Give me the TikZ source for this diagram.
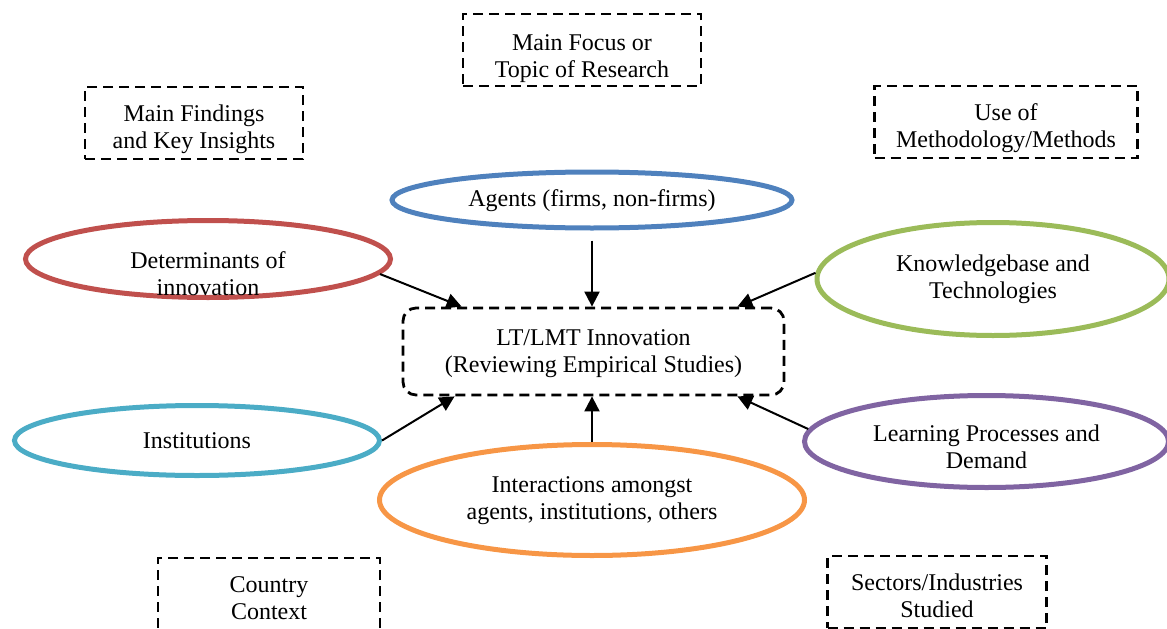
\documentclass[tikz,border=0pt]{standalone}
\usepackage{fontspec}
\setmainfont{Liberation Serif}
\usetikzlibrary{shapes.geometric,arrows.meta}

\definecolor{cblue}{HTML}{4F81BD}
\definecolor{cred}{HTML}{C0504D}
\definecolor{cgreen}{HTML}{9BBB59}
\definecolor{ccyan}{HTML}{4BACC6}
\definecolor{corange}{HTML}{F79646}
\definecolor{cpurple}{HTML}{8064A2}

\tikzset{
  lbl/.style={font=\fontsize{24}{27}\selectfont, align=center, inner sep=0pt},
  dashline/.style={line width=2.8pt, dash pattern=on 10pt off 6pt},
  dashbox/.style={draw, dashline, rectangle, minimum width=#1, minimum height=72pt},
  oval/.style={draw=#1, line width=5pt, ellipse, inner sep=0pt},
  arr/.style={line width=2pt, -{Triangle[length=15pt,width=15pt]}}
}

\begin{document}
\begin{tikzpicture}[x=1pt,y=-1pt]
\useasboundingbox (0,0) rectangle (1167,629);

% category boxes around the diagram
\node[dashbox=238pt] (focus)    at (582,50)   {};
\node[dashbox=218pt] (findings) at (194,123)  {};
\node[dashbox=263pt] (method)   at (1006,122) {};
\node[dashbox=222pt] (country)  at (269,594)  {};
\node[dashbox=219pt] (sectors)  at (937,592)  {};

\node[lbl] (focusT)    at (582,59)     {Main Focus or\\Topic of Research};
\node[lbl] (findingsT) at (194,129)    {Main Findings\\and Key Insights};
\node[lbl] (methodT)   at (1006,128.5) {Use of\\Methodology/Methods};
\node[lbl] (countryT)  at (269,598)    {Country\\Context};
\node[lbl] (sectorsT)  at (937,595.5)  {Sectors/Industries\\Studied};

% central topic
\node[draw, dashline, rounded corners=13pt,
      minimum width=381pt, minimum height=87pt] (core) at (593.5,351.5) {};
\node[lbl] (coreT) at (593.5,353.5) {LT/LMT Innovation\\(Reviewing Empirical Studies)};

% surrounding themes
\node[oval=cblue,   minimum width=400pt, minimum height=56pt]  (agents) at (592,200) {};
\node[oval=cred,    minimum width=365pt, minimum height=77pt]  (det)    at (208,259) {};
\node[oval=cgreen,  minimum width=352pt, minimum height=113pt] (know)   at (993,279) {};
\node[oval=ccyan,   minimum width=365pt, minimum height=70pt]  (inst)   at (197,440.5) {};
\node[oval=corange, minimum width=425pt, minimum height=111pt] (inter)  at (592,500) {};
\node[oval=cpurple, minimum width=364pt, minimum height=92pt]  (learn)  at (986.5,441.5) {};

\node[lbl] (agentsT) at (592,201)   {Agents (firms, non-firms)};
\node[lbl] (detT)    at (208,274)   {Determinants of\\innovation};
\node[lbl] (knowT)   at (993,279)   {Knowledgebase and\\Technologies};
\node[lbl] (instT)   at (197,441)   {Institutions};
\node[lbl] (interT)  at (592,501)   {Interactions amongst\\agents, institutions, others};
\node[lbl] (learnT)  at (986.5,447) {Learning Processes and\\Demand};

% arrows into the central topic
\draw[arr] (det.-5)     -- ([xshift=60pt]core.north west);
\draw[arr, shorten <=10pt] (agents.south) -- (agents.south |- core.north);
\draw[arr] (know.178)   -- ([xshift=-48pt]core.north east);
\draw[arr] (inst.0)     -- ([xshift=53pt]core.south west);
\draw[arr] (inter.north) -- (inter.north |- core.south);
\draw[arr] (learn.176)  -- ([xshift=-48pt]core.south east);
\end{tikzpicture}
\end{document}
